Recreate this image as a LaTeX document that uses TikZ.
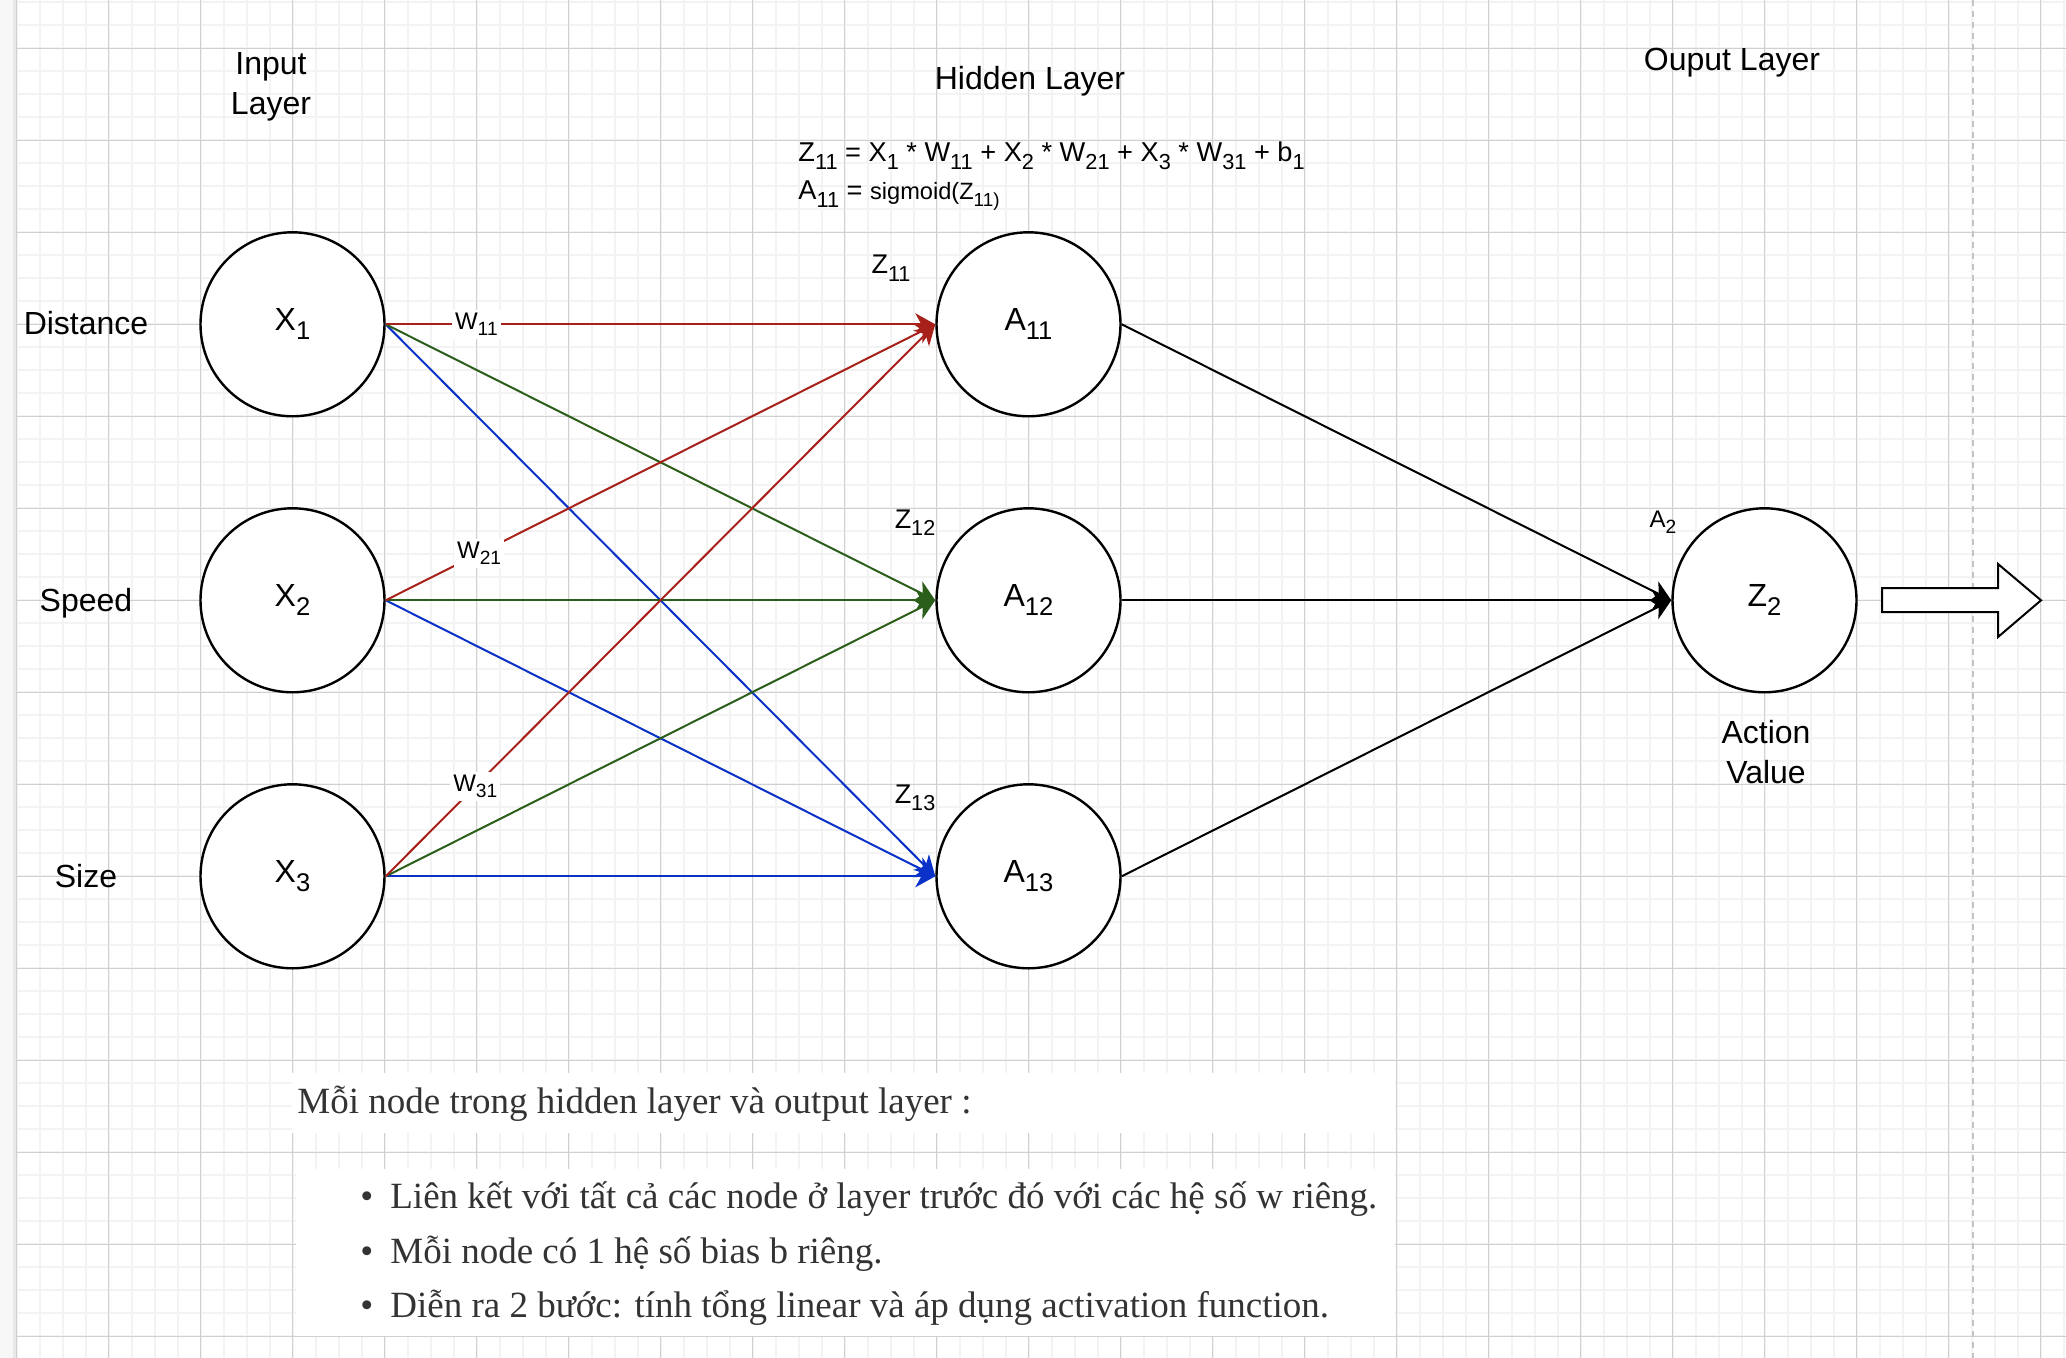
\documentclass[tikz,border=0pt]{standalone}
\usepackage{fontspec}
\setmainfont{Liberation Sans}
\newfontfamily\serifvn{Liberation Serif}
\usetikzlibrary{arrows.meta}
\definecolor{cred}{HTML}{A8201A}
\definecolor{cgreen}{HTML}{2B5E1A}
\definecolor{cblue}{HTML}{0A32C8}
\definecolor{gmajor}{HTML}{D0D0D0}
\definecolor{gminor}{HTML}{F3F3F3}
\definecolor{txtgray}{HTML}{333333}
\definecolor{dashgray}{HTML}{C4C4C4}
\newcommand{\sbx}[1]{\raisebox{-0.28em}{\scalebox{0.8}{#1}}}
\begin{document}
\begin{tikzpicture}[x=0.5pt,y=-0.5pt,
  neuron/.style={circle, draw=black, line width=1.2pt, minimum size=92pt, inner sep=0pt, fill=white, font=\fontsize{16}{19}\selectfont},
  conn/.style={line width=1pt, -{Stealth[length=10pt,width=11pt,inset=3pt]}},
  lbl/.style={inner sep=0pt, font=\fontsize{16}{20}\selectfont, align=center},
  zlbl/.style={inner sep=0pt, anchor=base, font=\fontsize{13.5}{16}\selectfont},
  wlbl/.style={fill=white, inner sep=1.5pt, font=\fontsize{12}{14}\selectfont},
  note/.style={inner sep=0pt, anchor=base west, text=txtgray, font=\serifvn\fontsize{18.5}{22}\selectfont},
  gminorline/.style={draw=gminor, line width=1pt},
  gmajorline/.style={draw=gmajor, line width=0.5pt}
]
\useasboundingbox (0,0) rectangle (2066,1358);
\fill[white] (0,0) rectangle (2066,1358);
% grid
\foreach \i in {0,...,89} {\draw[gminorline] ({16.5+23*\i},0) -- ({16.5+23*\i},1358);}
\foreach \j in {0,...,58} {\draw[gminorline] (16,{2.3+23*\j}) -- (2066,{2.3+23*\j});}
\foreach \i in {0,...,22} {\draw[gmajorline] ({16.5+92*\i},0) -- ({16.5+92*\i},1358);}
\foreach \j in {0,...,14} {\draw[gmajorline] (16,{48.3+92*\j}) -- (2066,{48.3+92*\j});}
% left strip
\fill[black!3] (0,0) rectangle (16,1358);
\fill[black!9] (13,0) rectangle (16,1358);
% dashed page line
\draw[dashgray, line width=1pt, dash pattern=on 3pt off 2.5pt] (1973,0) -- (1973,1358);

% titles
\node[lbl] (tin) at (271,87) {Input\\Layer};
\node[lbl, anchor=base] (thid) at (1030,90) {Hidden Layer};
\node[lbl, anchor=base] (tout) at (1732,71) {Ouput Layer};
\node[inner sep=0pt, anchor=base west, font=\fontsize{13.6}{16}\selectfont] (f1) at (798,162)
  {Z\sbx{11} = X\sbx{1} * W\sbx{11} + X\sbx{2} * W\sbx{21} + X\sbx{3} * W\sbx{31} + b\sbx{1}};
\node[inner sep=0pt, anchor=base west, font=\fontsize{13.6}{16}\selectfont] (f2) at (798,200)
  {A\sbx{11} = {\fontsize{11.8}{13}\selectfont sigmoid(Z\sbx{11)}}};

% input labels
\node[lbl, anchor=base] (ldist) at (86,335) {Distance};
\node[lbl, anchor=base] (lspeed) at (86,611) {Speed};
\node[lbl, anchor=base] (lsize) at (86,887) {Size};

% neurons
\node[neuron] (x1) at (292.5,324.3) {X\sbx{1}};
\node[neuron] (x2) at (292.5,600.3) {X\sbx{2}};
\node[neuron] (x3) at (292.5,876.3) {X\sbx{3}};
\node[neuron] (a11) at (1028.5,324.3) {A\sbx{11}};
\node[neuron] (a12) at (1028.5,600.3) {A\sbx{12}};
\node[neuron] (a13) at (1028.5,876.3) {A\sbx{13}};
\node[neuron] (z2) at (1764.5,600.3) {Z\sbx{2}};

% z labels
\node[zlbl] (lz11) at (891,274) {Z\sbx{11}};
\node[zlbl] (lz12) at (915,528) {Z\sbx{12}};
\node[zlbl] (lz13) at (915,803) {Z\sbx{13}};
\node[inner sep=0pt, anchor=base, font=\fontsize{12}{14}\selectfont] (la2) at (1663,527) {A\sbx{2}};
\node[lbl] (lact) at (1766,752) {Action\\Value};

% connections: blue, green, red
\draw[conn, cblue] (x1.east) -- (a13.west);
\draw[conn, cblue] (x2.east) -- (a13.west);
\draw[conn, cblue] (x3.east) -- (a13.west);
\draw[conn, cgreen] (x1.east) -- (a12.west);
\draw[conn, cgreen] (x2.east) -- (a12.west);
\draw[conn, cgreen] (x3.east) -- (a12.west);
\draw[conn, cred] (x1.east) -- node[wlbl, text=black, pos=0.165] (w11) {W\sbx{11}} (a11.west);
\draw[conn, cred] (x2.east) -- node[wlbl, text=black, pos=0.17] (w21) {W\sbx{21}} (a11.west);
\draw[conn, cred] (x3.east) -- node[wlbl, text=black, pos=0.163] (w31) {W\sbx{31}} (a11.west);
\draw[conn, black] (a11.east) -- (z2.west);
\draw[conn, black] (a12.east) -- (z2.west);
\draw[conn, black] (a13.east) -- (z2.west);

% hollow output arrow
\draw[line width=1pt, fill=white] (1882,588) -- (1998,588) -- (1998,564) -- (2041,600.3) -- (1998,637) -- (1998,612) -- (1882,612) -- cycle;

% note boxes
\fill[white] (292,1073) rectangle (1395,1133);
\fill[white] (296,1169) rectangle (1395,1336);
\node[note] (n0) at (297,1113) {Mỗi node trong hidden layer và output layer :};
\node[note] (n1) at (360,1208) {\makebox[15pt][l]{•}Liên kết với tất cả các node ở layer trước đó với các hệ số w riêng.};
\node[note] (n2) at (360,1263) {\makebox[15pt][l]{•}Mỗi node có 1 hệ số bias b riêng.};
\node[note] (n3) at (360,1317) {\makebox[15pt][l]{•}Diễn ra 2 bước: tính tổng linear và áp dụng activation function.};
\end{tikzpicture}
\end{document}
